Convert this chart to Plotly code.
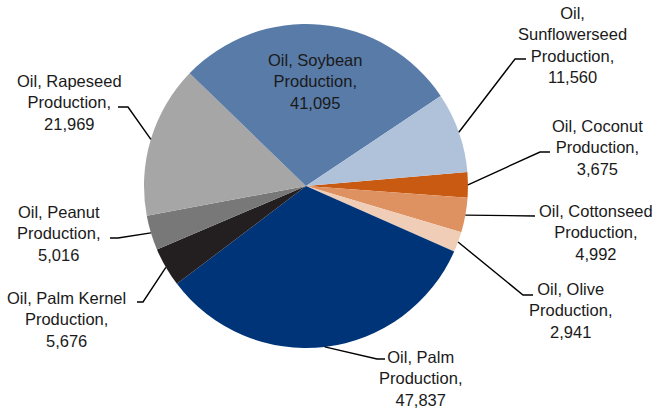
import math
import plotly.graph_objects as go

# World vegetable oil production by oil type (1000 metric tons)
oils = ["Coconut", "Cottonseed", "Olive", "Palm", "Palm Kernel",
        "Peanut", "Rapeseed", "Soybean", "Sunflowerseed"]
production = [3675, 4992, 2941, 47837, 5676, 5016, 21969, 41095, 11560]
colors = ["#C85A12", "#DE9262", "#F0CDB7", "#003478", "#231F20",
          "#787878", "#A6A6A6", "#597BA8", "#B0C1DA"]

W, H = 655, 408
CX, CY, R = 306, 186, 162      # pie centre and radius in pixels
ROTATION = 85                  # start angle of first slice, clockwise from 12 o'clock


def px(x):
    return x / W


def py(y):
    return 1 - y / H


# label layout: text-block centre, elbow point and end point of the leader (pixels)
label_layout = {
    "Soybean":       dict(text=(315, 82), inside=True),
    "Sunflowerseed": dict(text=(572, 45), elbow=(515, 59), end=(526, 59), split_oil=True),
    "Coconut":       dict(text=(597, 147), elbow=(540, 152), end=(550, 152)),
    "Cottonseed":    dict(text=(596, 232), elbow=None, end=(535, 216)),
    "Olive":         dict(text=(570, 310), elbow=(523, 295), end=(533, 295)),
    "Palm":          dict(text=(420, 378), elbow=(377, 359), end=(385, 359)),
    "Palm Kernel":   dict(text=(66, 319), elbow=(143, 302), end=(137, 302)),
    "Peanut":        dict(text=(58, 233), elbow=(118, 238), end=(110, 238)),
    "Rapeseed":      dict(text=(69, 102), elbow=(128, 107), end=(118, 107)),
}

fig = go.Figure(go.Pie(
    labels=oils,
    values=production,
    sort=False,
    direction="clockwise",
    rotation=ROTATION,
    marker=dict(colors=colors, line=dict(width=0)),
    textinfo="none",
    textposition="none",
    hoverinfo="label+value",
    domain=dict(x=[px(CX - R), px(CX + R)], y=[py(CY + R), py(CY - R)]),
    showlegend=False,
))

total = sum(production)
angle = ROTATION
annotations = []
shapes = []
for name, val in zip(oils, production):
    span = val / total * 360
    mid = math.radians(angle + span / 2)
    angle += span
    spec = label_layout[name]
    first = f"Oil,<br>{name}" if spec.get("split_oil") else f"Oil, {name}"
    text = f"{first}<br>Production,<br>{val:,}"
    tx, ty = spec["text"]
    annotations.append(dict(
        x=px(tx), y=py(ty), xref="paper", yref="paper",
        text=text, showarrow=False, align="center",
        xanchor="center", yanchor="middle",
        font=dict(family="Liberation Sans, Arial, sans-serif", size=16.5, color="#1A1A1A"),
    ))
    if spec.get("inside"):
        continue
    ex = CX + R * math.sin(mid)
    ey = CY - R * math.cos(mid)
    pts = [(ex, ey)]
    if spec.get("elbow"):
        pts.append(spec["elbow"])
    pts.append(spec["end"])
    path = "M " + " L ".join(f"{px(x):.5f},{py(y):.5f}" for x, y in pts)
    shapes.append(dict(type="path", path=path, xref="paper", yref="paper",
                       line=dict(color="#000000", width=1.4)))

fig.update_layout(
    width=W, height=H,
    margin=dict(l=0, r=0, t=0, b=0),
    paper_bgcolor="white",
    plot_bgcolor="white",
    annotations=annotations,
    shapes=shapes,
)

fig.write_html("out.html")
